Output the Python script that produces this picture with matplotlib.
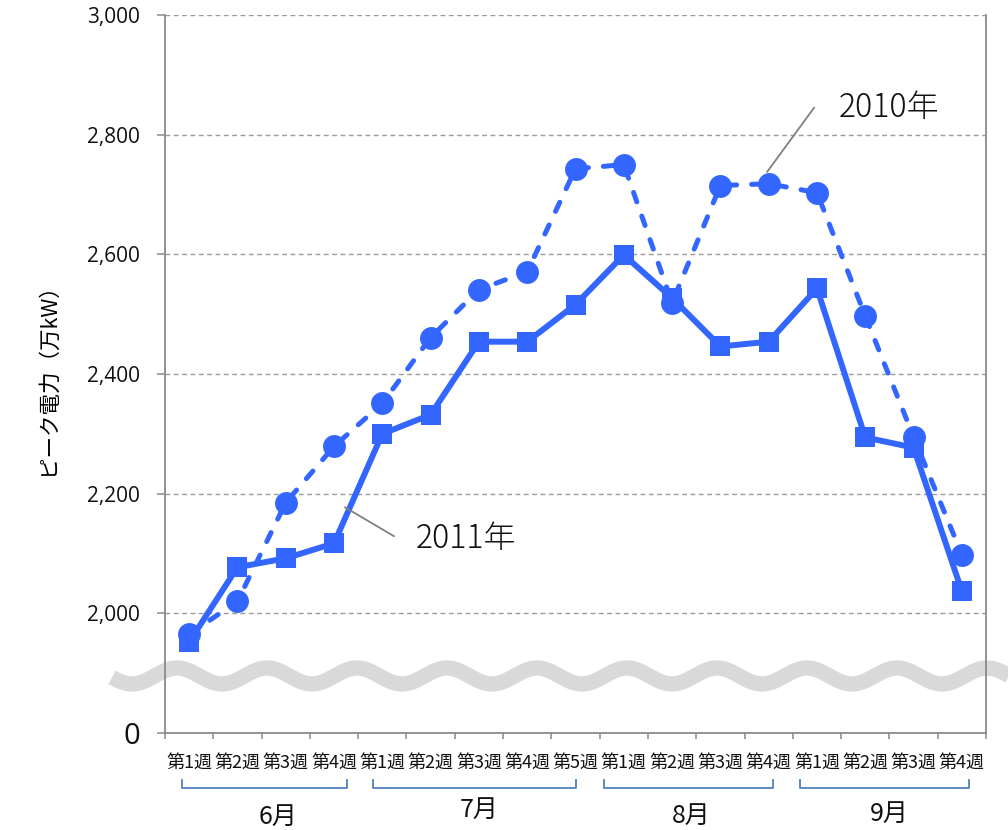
import numpy as np
import matplotlib
matplotlib.use("Agg")
import matplotlib.pyplot as plt
from matplotlib.transforms import Affine2D

plt.rcParams['font.family'] = ['Noto Sans CJK JP', 'DejaVu Sans']

# ---- data ----
week_labels = ["第1週", "第2週", "第3週", "第4週",
               "第1週", "第2週", "第3週", "第4週", "第5週",
               "第1週", "第2週", "第3週", "第4週",
               "第1週", "第2週", "第3週", "第4週"]
months = ["6月", "7月", "8月", "9月"]
y2010 = [1965, 2020, 2185, 2279, 2351, 2461, 2541, 2571, 2743,
         2750, 2519, 2715, 2718, 2703, 2497, 2295, 2098]
y2011 = [1952, 2077, 2092, 2117, 2300, 2332, 2454, 2454, 2516,
         2599, 2527, 2446, 2454, 2543, 2294, 2277, 2037]
ytick_vals = [1800, 2000, 2200, 2400, 2600, 2800, 3000]
ytick_labels = ["0", "2,000", "2,200", "2,400", "2,600", "2,800", "3,000"]

# ---- layout ----
W, H = 1008, 830
fig = plt.figure(figsize=(W / 100, H / 100), dpi=100)
ax = fig.add_axes([165 / W, 1 - 733 / H, 821 / W, 718 / H])

blue = "#3366FF"
x = np.arange(len(week_labels))

ax.plot(x, y2011, color=blue, lw=4.3, marker='s', ms=14.5,
        markeredgewidth=0, zorder=4, solid_joinstyle='miter')
ax.plot(x, y2010, color=blue, lw=3.6, marker='o', ms=16.5,
        markeredgewidth=0, dashes=(2, 3), dash_capstyle='round', zorder=3)

ax.set_xlim(-0.5, len(week_labels) - 0.5)
ax.set_ylim(1800, 3000)

# grid
for v in ytick_vals[1:]:
    ax.axhline(v, color="#9a9a9a", lw=1.0, ls=(0, (3.5, 2.5)), zorder=1)

# spines
for s in ["left", "bottom", "right"]:
    ax.spines[s].set_color("#8a8a8a")
    ax.spines[s].set_linewidth(1.3)
ax.spines["top"].set_visible(False)

# y ticks
ax.set_yticks(ytick_vals)
ax.set_yticklabels(ytick_labels)
ax.tick_params(axis='y', length=6, width=1.1, color="#8a8a8a", pad=12,
               labelsize=15, labelcolor="#111111")
ytl = ax.get_yticklabels()
for t in ytl:
    t.set_family(['Open Sans', 'DejaVu Sans'])
ytl[0].set_fontsize(21)

# x ticks: boundaries (major) and labels (minor)
ax.set_xticks(np.arange(-0.5, len(week_labels), 1.0))
ax.set_xticklabels([])
ax.set_xticks(x, minor=True)
ax.set_xticklabels(week_labels, minor=True)
ax.tick_params(axis='x', which='major', length=4, width=1.1, color="#8a8a8a")
ax.tick_params(axis='x', which='minor', length=0, pad=15, labelsize=13,
               labelcolor="#111111")

ax.set_ylabel("ピーク電力（万kW）", fontsize=15.5, labelpad=20)

# month brackets and labels
trans = ax.get_xaxis_transform()
bracket_spans = [(-0.15, 3.27), (3.81, 8.01), (8.59, 12.09), (12.65, 16.15)]
month_x = [1.85, 6.0, 10.4, 14.5]
month_y = [-0.117, -0.107, -0.115, -0.112]
yb_top, yb = -0.066, -0.076
for (a, b), m, mx, my in zip(bracket_spans, months, month_x, month_y):
    ax.plot([a, a, b, b], [yb_top, yb, yb, yb_top], color="#4F81BD", lw=1.3,
            transform=trans, clip_on=False)
    ax.text(mx, my, m, transform=trans, ha='center', va='center',
            fontsize=18, color="#111111")

# axis break wave (decoration, in pixel coordinates)
pix = Affine2D().scale(1 / W, -1 / H).translate(0, 1) + fig.transFigure
wx = np.linspace(112, 1010, 800)
wy = 676 - 8 * np.cos(2 * np.pi * (wx - 177) / 90)
ax.plot(wx, wy, color="#D9D9D9", lw=11, transform=pix, clip_on=False,
        solid_capstyle='butt', zorder=1.5)

# annotations
ax.plot([11.97, 12.94], [2738, 2845], color="#808080", lw=1.3, zorder=5)
ax.text(13.44, 2845, "2010年", fontsize=23, ha='left', va='center',
        color="#111111", fontweight='light')
ax.plot([3.23, 4.24], [2177, 2129], color="#808080", lw=1.3, zorder=5)
ax.text(4.70, 2124, "2011年", fontsize=23, ha='left', va='center',
        color="#111111", fontweight='light')

fig.savefig("out.png", dpi=100)
